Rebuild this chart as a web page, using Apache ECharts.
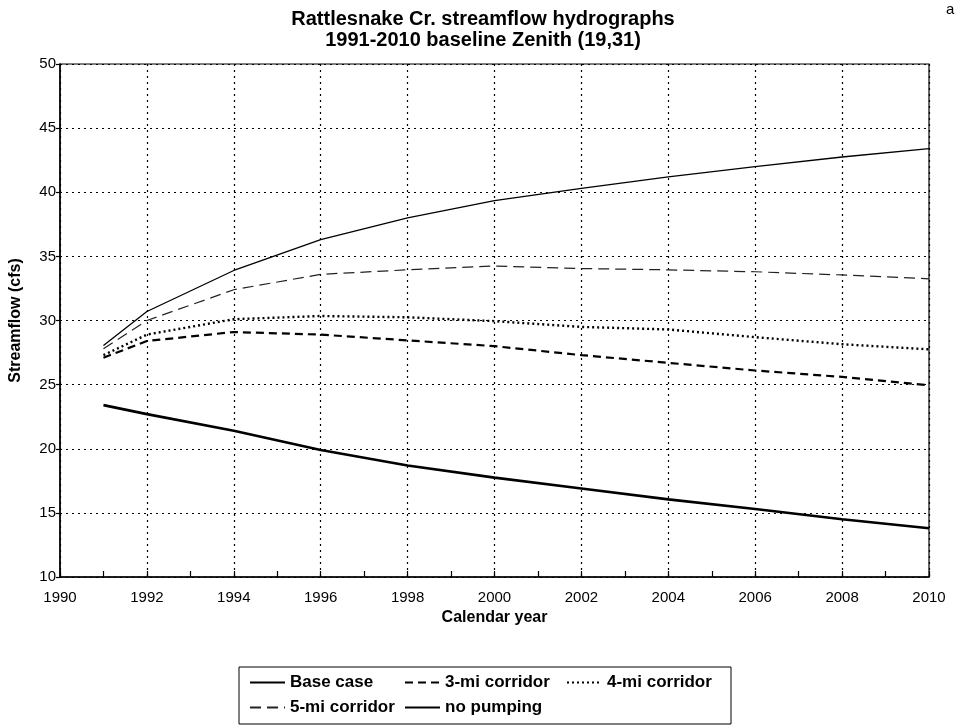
<!DOCTYPE html>
<html>
<head>
<meta charset="utf-8">
<script src="https://cdn.jsdelivr.net/npm/echarts@6/dist/echarts.min.js"></script>
<style>
html,body{margin:0;padding:0;background:#fff;}
#chart{width:966px;height:728px;}
</style>
</head>
<body>
<div id="chart"></div>
<script>
const years = [1991, 1992, 1994, 1996, 1998, 2000, 2002, 2004, 2006, 2008, 2010];
const baseCase = [23.4, 22.7, 21.4, 19.9, 18.7, 17.75, 16.9, 16.05, 15.3, 14.5, 13.8];
const corridor3 = [27.1, 28.4, 29.1, 28.9, 28.45, 28.0, 27.3, 26.7, 26.1, 25.6, 24.95];
const corridor4 = [27.3, 28.9, 30.1, 30.35, 30.25, 29.95, 29.5, 29.3, 28.7, 28.15, 27.75];
const corridor5 = [27.8, 30.0, 32.4, 33.6, 33.95, 34.25, 34.05, 33.95, 33.8, 33.55, 33.25];
const noPumping = [28.05, 30.7, 33.9, 36.3, 38.0, 39.35, 40.3, 41.2, 42.0, 42.75, 43.4];
const seriesNames = ['Base case', '3-mi corridor', '4-mi corridor', '5-mi corridor', 'no pumping'];
const titleLines = ['Rattlesnake Cr. streamflow hydrographs', '1991-2010 baseline Zenith (19,31)'];

const pairs = v => years.map((y, i) => [y, v[i]]);
const FONT = 'Liberation Sans, Arial, sans-serif';
const colOf = {'Base case': 'c1', '5-mi corridor': 'c1', '3-mi corridor': 'c2', 'no pumping': 'c2', '4-mi corridor': 'c3'};
const richTok = w => ({width: w, height: 25, fontSize: 17, fontWeight: 'bold', fontFamily: FONT, color: '#000', lineHeight: 25});

const chart = echarts.init(document.getElementById('chart'), null, {renderer: 'canvas'});
chart.setOption({
  backgroundColor: '#fff',
  animation: false,
  title: {
    text: titleLines.join('\n'),
    left: 'center',
    top: 4,
    textStyle: {fontFamily: FONT, fontSize: 20, fontWeight: 'bold', color: '#000', lineHeight: 21}
  },
  graphic: [{type: 'text', left: 946, top: 2, style: {text: 'a', font: '15px ' + FONT, fill: '#000'}}],
  grid: {left: 60, right: 37, top: 64, bottom: 151, show: true, borderColor: '#000', borderWidth: 1.2},
  legend: {
    left: 239, top: 667, width: 530,
    orient: 'horizontal',
    padding: [3, 10, 4, 10],
    itemGap: 0,
    itemWidth: 35, itemHeight: 25,
    borderColor: '#000', borderWidth: 1,
    selectedMode: false,
    itemStyle: {opacity: 0},
    data: ['Base case', '3-mi corridor', '4-mi corridor', '5-mi corridor', 'no pumping'],
    formatter: name => '{' + colOf[name] + '|' + name + '}',
    textStyle: {fontSize: 17, fontWeight: 'bold', fontFamily: FONT, color: '#000',
      rich: {c1: richTok(114), c2: richTok(121), c3: richTok(114)}}
  },
  xAxis: {
    type: 'value', min: 1990, max: 2010, interval: 2,
    name: 'Calendar year', nameLocation: 'middle', nameGap: 28,
    nameTextStyle: {fontFamily: FONT, fontSize: 16, fontWeight: 'bold', color: '#000'},
    axisLine: {lineStyle: {color: '#000', width: 1.5}},
    axisTick: {inside: true, length: 6, lineStyle: {color: '#000', width: 1.2}},
    minorTick: {show: true, splitNumber: 2, length: 6, lineStyle: {color: '#000', width: 1.2}},
    axisLabel: {fontFamily: FONT, fontSize: 15, color: '#000', margin: 13, formatter: v => String(v)},
    splitLine: {show: true, lineStyle: {color: '#000', type: [2, 4], width: 1.2}}
  },
  yAxis: {
    type: 'value', min: 10, max: 50, interval: 5,
    name: 'Streamflow (cfs)', nameLocation: 'middle', nameGap: 36,
    nameTextStyle: {fontFamily: FONT, fontSize: 16, fontWeight: 'bold', color: '#000'},
    axisLine: {show: true, lineStyle: {color: '#000', width: 1.5}},
    axisTick: {show: true, length: 4, lineStyle: {color: '#000', width: 1.2}},
    axisLabel: {fontFamily: FONT, fontSize: 15, color: '#000', margin: 4},
    splitLine: {show: true, lineStyle: {color: '#000', type: [2, 4], width: 1.2}}
  },
  series: [
    {name: seriesNames[0], type: 'line', data: pairs(baseCase), symbol: 'none', color: '#000',
      lineStyle: {color: '#000', width: 2.6, type: 'solid'}},
    {name: seriesNames[1], type: 'line', data: pairs(corridor3), symbol: 'none', color: '#000',
      lineStyle: {color: '#000', width: 2.2, type: [8, 5]}},
    {name: seriesNames[2], type: 'line', data: pairs(corridor4), symbol: 'none', color: '#000',
      lineStyle: {color: '#000', width: 2.4, type: [2, 3]}},
    {name: seriesNames[3], type: 'line', data: pairs(corridor5), symbol: 'none', color: '#222',
      lineStyle: {color: '#222', width: 1.2, type: [11, 6]}},
    {name: seriesNames[4], type: 'line', data: pairs(noPumping), symbol: 'none', color: '#000',
      lineStyle: {color: '#000', width: 1.3, type: 'solid'}}
  ]
});
</script>
</body>
</html>
